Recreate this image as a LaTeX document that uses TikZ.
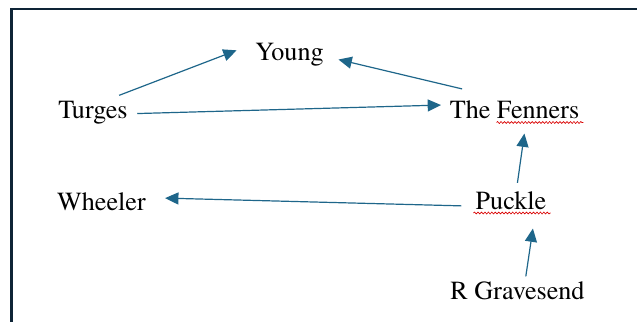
\documentclass[tikz,border=0pt]{standalone}
\usepackage{fontspec}
\setmainfont{texgyretermes-regular.otf}
\usepackage{xcolor}
\usepackage{tikz}
\usetikzlibrary{arrows.meta, positioning, calc, decorations.pathmorphing}

\definecolor{arrowblue}{RGB}{30,102,138}
\definecolor{framenavy}{RGB}{14,36,54}

\begin{document}
\begin{tikzpicture}[
    x=0.75pt, y=-0.75pt,
    person/.style={inner sep=3pt, text height=13.8pt, text depth=4.3pt, anchor=base, font=\fontsize{19.6}{23.5}\selectfont},
    arrow/.style={-{Triangle[length=10pt, width=9pt]}, draw=arrowblue, line width=0.9pt},
    frame/.style={draw=framenavy, line width=1.9pt},
    spell/.style={draw=red!85!black, line width=0.5pt, decorate, decoration={snake, segment length=2.6pt, amplitude=0.7pt}}
]

\useasboundingbox (0,0) rectangle (637,322);
\draw[frame] (11.3,330) |- (645,9);

\node[person] (young) at (289.5,60) {Young};
\node[person] (turges) at (93,118) {Turges};
\node[person] (fenners) at (514.5,118.5) {The Fenners};
\node[person] (wheeler) at (101.5,210) {Wheeler};
\node[person] (puckle) at (511,209) {Puckle};
\node[person] (gravesend) at (517.5,299) {R Gravesend};

\draw[spell] ($(fenners.base west)+(51,4)$) -- ($(fenners.base east)+(0,4)$);
\draw[spell] ($(puckle.base west)+(2,4)$) -- ($(puckle.base east)+(0,4)$);

\draw[arrow, shorten >=11.6pt] (turges.32) -- (young.167);
\draw[arrow, shorten <=22.4pt, shorten >=8.1pt] (fenners.145) -- (young.-5);
\draw[arrow, shorten <=4.1pt, shorten >=3.4pt] (turges.-3) -- (fenners.174);
\draw[arrow, shorten <=2.6pt, shorten >=3.8pt] (puckle.70) -- (fenners.-57);
\draw[arrow, shorten <=7.5pt, shorten >=11.3pt] (puckle.185) -- (wheeler.7);
\draw[arrow, shorten >=7.2pt] (gravesend.63) -- (puckle.-35);

\end{tikzpicture}
\end{document}
